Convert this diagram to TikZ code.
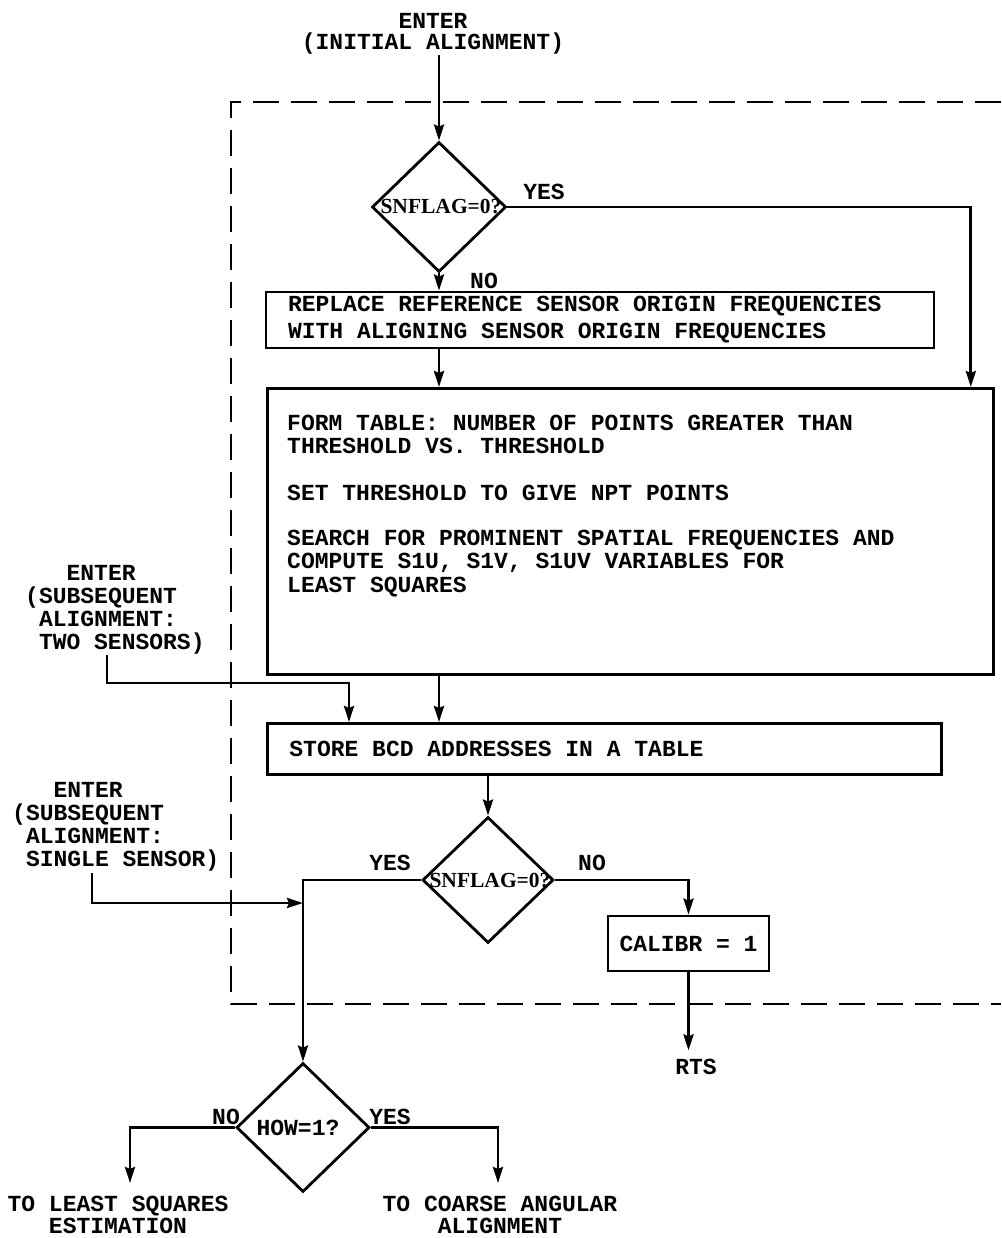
\documentclass[tikz,border=0pt]{standalone}
\usepackage{fontspec}
\setmainfont{Liberation Serif}
\newfontfamily\monofam{Liberation Mono}
\usetikzlibrary{shapes.geometric,arrows.meta,calc}
\frenchspacing
\newcommand{\ttlead}[1]{\monofam\bfseries\fontsize{23}{#1}\selectfont\spaceskip=13.8pt\relax}
\newcommand{\fixsp}{\spaceskip=13.8pt\xspaceskip=13.8pt\relax}
\tikzset{
  ln/.style={line width=2.8pt},
  arr/.style={ln, -{Stealth[length=16pt,width=10pt,inset=2pt]}},
  box/.style={draw, ln, rectangle, inner sep=0pt},
  dia/.style={draw, ln, diamond, inner sep=0pt},
  tt/.style={font=\ttlead{23}, inner sep=0pt},
  snf/.style={font=\rmfamily\bfseries\fontsize{21.5}{21.5}\selectfont, inner sep=0pt},
}
\begin{document}
\begin{tikzpicture}[x=1pt,y=-1pt]
\useasboundingbox (0,0) rectangle (1001,1238);

% dashed frame (open on the right)
\draw[ln, dash pattern=on 26pt off 12pt] (1001,102) -- (231,102) -- (231,1004) -- (1001,1004);

% entry
\node[tt, align=center, anchor=base, font=\ttlead{21}] (e1) at (433,50) {ENTER\\(INITIAL ALIGNMENT)};

% first decision
\node[dia, minimum width=134pt, minimum height=130pt] (d1) at (439,207) {};
\node[snf] (d1t) at ($(d1.center)+(2,0)$) {SNFLAG=0?};
\node[tt, anchor=base] (y1) at (544,200) {YES};
\node[tt, anchor=base] (n1) at (484,289) {NO};

% box 1
\node[box, tt, minimum width=668pt, minimum height=56pt, align=left, text width=624pt,
      font=\ttlead{27}] (b1) at (600,320)
  {\fixsp REPLACE REFERENCE SENSOR ORIGIN FREQUENCIES\\WITH ALIGNING SENSOR ORIGIN FREQUENCIES};

% big box
\node[box, minimum width=726pt, minimum height=286pt, anchor=north west] (big) at (266,387) {};
\node[tt, align=left, anchor=base west, font=\ttlead{23.3}] (bigt) at (287,592)
  {FORM TABLE: NUMBER OF POINTS GREATER THAN\\
   THRESHOLD VS. THRESHOLD\\[23.3pt]
   SET THRESHOLD TO GIVE NPT POINTS\\[22pt]
   SEARCH FOR PROMINENT SPATIAL FREQUENCIES AND\\
   COMPUTE S1U, S1V, S1UV VARIABLES FOR\\
   LEAST SQUARES};

% store box
\node[box, tt, minimum width=674pt, minimum height=51pt, align=left, text width=630pt, anchor=north west] (store) at (266,722)
  {\fixsp STORE BCD ADDRESSES IN A TABLE};

% second decision
\node[dia, minimum width=131pt, minimum height=126pt] (d2) at (488,880) {};
\node[snf] (d2t) at ($(d2.center)+(2,0)$) {SNFLAG=0?};
\node[tt, anchor=base] (y2) at (390,870) {YES};
\node[tt, anchor=base] (n2) at (592,870) {NO};

% calibr box
\node[box, tt, minimum width=161pt, minimum height=55pt] (cal) at (688.5,943.5) {CALIBR = 1};
\node[tt, anchor=base] (rts) at (696,1074) {RTS};

% third decision
\node[dia, minimum width=133pt, minimum height=129pt] (how) at (303,1127.5) {};
\node[tt] (howt) at ($(how.center)+(-5,0)$) {HOW=1?};
\node[tt, anchor=base] (n3) at (226,1124) {NO};
\node[tt, anchor=base] (y3) at (390,1124) {YES};

% side entries
\node[tt, align=left, anchor=base west] (e2) at (25,649)
  {\phantom{(SU}ENTER\\(SUBSEQUENT\\\phantom{(}ALIGNMENT:\\\phantom{(}TWO SENSORS)};
\node[tt, align=left, anchor=base west] (e3) at (12,866)
  {\phantom{(SU}ENTER\\(SUBSEQUENT\\\phantom{(}ALIGNMENT:\\\phantom{(}SINGLE SENSOR)};

% exits
\node[tt, align=center, anchor=base, font=\ttlead{22}] (xl) at (118,1233) {TO LEAST SQUARES\\ESTIMATION};
\node[tt, align=center, anchor=base, font=\ttlead{22}] (xr) at (500,1233) {TO COARSE ANGULAR\\ALIGNMENT};

% coordinates for free ends
\coordinate (e2o) at (107,655);
\coordinate (s2) at ($(store.north west)+(83,0)$);
\coordinate (e3o) at (92,873);
\coordinate (j3) at (303,903);
\coordinate (tlo) at (130,1183);
\coordinate (tro) at (498,1183);

% connectors
\draw[arr] (e1.south -| d1.north) -- (d1.north);
\draw[arr] (d1.east) -| ($(big.north east)+(-24,0)$);
\draw[arr] (d1.south) -- (d1.south |- b1.north);
\draw[arr] (b1.south -| d1.south) -- (big.north -| d1.south);
\draw[arr] (big.south -| d1.south) -- (store.north -| d1.south);
\draw[arr] (e2o) |- ($(s2)+(0,-39)$) -- (s2);
\draw[arr] (store.south -| d2.north) -- (d2.north);
\draw[arr] (d2.east) -| (cal.north);
\draw[arr, shorten >=8pt] (cal.south) -- (cal.south |- rts.north);
\draw[arr] (d2.west) -| (how.north);
\draw[arr] (e3o) |- (j3);
\draw[arr] (how.west) -| (tlo);
\draw[arr] (how.east) -| (tro);
\end{tikzpicture}
\end{document}
